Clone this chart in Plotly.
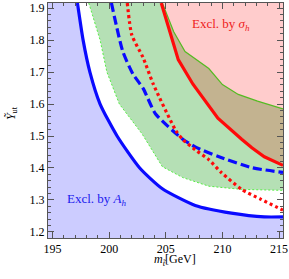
import plotly.graph_objects as go

# ---- data ----
blue_solid_x = [197.2, 197.7, 198.3, 199.2, 200.7, 202.7, 204.7, 207.6, 210.8, 213.7, 215.35]
blue_solid_y = [1.916, 1.80, 1.70, 1.60, 1.50, 1.40, 1.335, 1.283, 1.259, 1.247, 1.247]

green_low_x = [198.2, 199.2, 199.8, 200.9, 202.9, 204.7, 206.5, 208.8, 211.7, 215.35]
green_low_y = [1.916, 1.80, 1.70, 1.60, 1.507, 1.404, 1.370, 1.343, 1.333, 1.330]

green_up_x = [204.7, 205.7, 206.7, 208.8, 210.0, 211.4, 213.1, 215.35]
green_up_y = [1.916, 1.826, 1.764, 1.711, 1.661, 1.630, 1.609, 1.585]

red_solid_x = [204.6, 206.1, 207.4, 209.6, 211.7, 212.6, 213.7, 215.35]
red_solid_y = [1.916, 1.739, 1.662, 1.556, 1.490, 1.463, 1.435, 1.408]

red_dot_x = [201.6, 202.0, 203.0, 203.9, 205.9, 206.5, 207.6, 208.8, 209.9, 211.7, 213.4, 215.35]
red_dot_y = [1.916, 1.816, 1.745, 1.662, 1.516, 1.489, 1.457, 1.426, 1.386, 1.333, 1.302, 1.268]

blue_dash_x = [200.2, 201.2, 202.1, 203.0, 204.1, 206.5, 207.6, 209.7, 212.6, 215.35]
blue_dash_y = [1.916, 1.765, 1.694, 1.649, 1.569, 1.490, 1.466, 1.435, 1.401, 1.386]

x_ticks = [195, 200, 205, 210, 215]
y_ticks = [1.2, 1.3, 1.4, 1.5, 1.6, 1.7, 1.8, 1.9]

XR = [194.6, 215.35]
YR = [1.181, 1.916]

fig = go.Figure()

# blue excluded region (left/below blue solid line)
fig.add_trace(go.Scatter(
    x=blue_solid_x + [XR[1], XR[0], XR[0]],
    y=blue_solid_y + [YR[0], YR[0], YR[1]],
    fill="toself", fillcolor="rgba(0,0,255,0.2)", line=dict(width=0),
    mode="lines", hoverinfo="skip", showlegend=False))

# green band
fig.add_trace(go.Scatter(
    x=green_low_x + green_up_x[::-1],
    y=green_low_y + green_up_y[::-1],
    fill="toself", fillcolor="rgba(30,160,30,0.33)", line=dict(width=0),
    mode="lines", hoverinfo="skip", showlegend=False))

# pink region (right/above red solid line)
fig.add_trace(go.Scatter(
    x=red_solid_x + [XR[1], red_solid_x[0]],
    y=red_solid_y + [YR[1], red_solid_y[0]],
    fill="toself", fillcolor="rgba(255,0,0,0.2)", line=dict(width=0),
    mode="lines", hoverinfo="skip", showlegend=False))

# thin green boundaries
fig.add_trace(go.Scatter(x=green_low_x, y=green_low_y, mode="lines",
                         line=dict(color="#55ee44", width=1, dash="2px,2px"),
                         hoverinfo="skip", showlegend=False))
fig.add_trace(go.Scatter(x=green_up_x, y=green_up_y, mode="lines",
                         line=dict(color="#55bb22", width=1.2),
                         hoverinfo="skip", showlegend=False))

# thick curves
fig.add_trace(go.Scatter(x=blue_solid_x, y=blue_solid_y, mode="lines",
                         line=dict(color="#0a0aff", width=3.2, shape="spline", smoothing=0.6),
                         hoverinfo="skip", showlegend=False))
fig.add_trace(go.Scatter(x=blue_dash_x, y=blue_dash_y, mode="lines",
                         line=dict(color="#0a0aff", width=3.2, dash="9px,4px", shape="spline", smoothing=0.6),
                         hoverinfo="skip", showlegend=False))
fig.add_trace(go.Scatter(x=red_dot_x, y=red_dot_y, mode="lines",
                         line=dict(color="#ff0a0a", width=3.2, dash="3px,3px", shape="spline", smoothing=0.6),
                         hoverinfo="skip", showlegend=False))
fig.add_trace(go.Scatter(x=red_solid_x, y=red_solid_y, mode="lines",
                         line=dict(color="#ff0a0a", width=3.2),
                         hoverinfo="skip", showlegend=False))

font = "Liberation Serif"
axis_common = dict(showgrid=False, zeroline=False, ticks="inside", ticklen=6, tickwidth=0.8,
                   tickcolor="#555", showline=True, linecolor="#555", linewidth=1,
                   mirror="ticks", ticklabeloverflow="allow",
                   tickfont=dict(family=font, size=12, color="black"))

fig.update_xaxes(range=XR, tickvals=x_ticks, ticktext=[str(v) for v in x_ticks],
                 minor=dict(dtick=1, tick0=195, ticks="inside", ticklen=3, tickcolor="#555"),
                 **axis_common)
fig.update_yaxes(range=YR, tickvals=y_ticks, ticktext=[f"{v:.1f}" for v in y_ticks],
                 minor=dict(dtick=0.02, tick0=1.2, ticks="inside", ticklen=3, tickcolor="#555"),
                 **axis_common)

fig.add_annotation(x=209.9, y=1.85, text="Excl. by <i>σ</i><sub><i>h</i></sub>",
                   showarrow=False, font=dict(family=font, size=13, color="#ee2020"))
fig.add_annotation(x=198.9, y=1.302, text="Excl. by <i>A</i><sub><i>h</i></sub>",
                   showarrow=False, font=dict(family=font, size=13, color="#2020ee"))

fig.add_annotation(xref="paper", yref="paper", x=(176 - 47.5) / (286 - 47.5), y=(238 - 260) / 237,
                   xanchor="center", yanchor="middle",
                   text="<i>m</i><sub><i>t̃</i></sub>[GeV]", showarrow=False,
                   font=dict(family=font, size=12, color="black"))
fig.add_annotation(xref="paper", yref="paper", x=(11 - 47.5) / (286 - 47.5), y=(238 - 112) / 237,
                   xanchor="center", yanchor="middle",
                   text="<i>Ỹ</i><sub>ut</sub>", textangle=-90, showarrow=False,
                   font=dict(family=font, size=12, color="black"))

fig.update_layout(width=289, height=279, margin=dict(l=47.5, r=3, t=1, b=41),
                  paper_bgcolor="white", plot_bgcolor="white")

fig.write_html("out.html", config={"displayModeBar": False},
               post_script="document.body.style.margin='0';document.body.style.padding='0';")
